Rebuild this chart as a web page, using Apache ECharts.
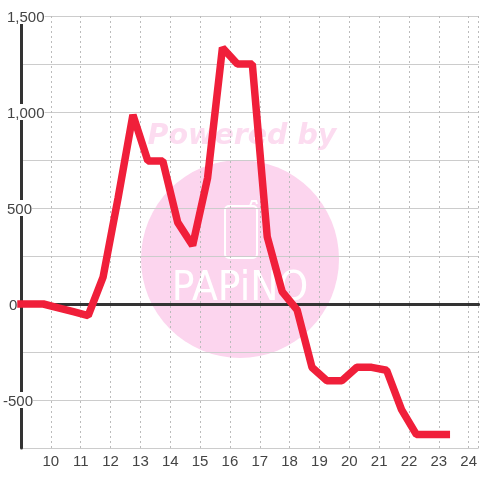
<!DOCTYPE html>
<html style="height: 100%">

<head>
    <meta charset="utf-8">
    <script src="https://cdn.jsdelivr.net/npm/echarts@6/dist/echarts.min.js"></script>
</head>

<body style="height: 100%; margin: 0; background: #fff">
<div id="container" style="width: 480px; height: 480px"></div>

<script type="text/javascript">
    // values
    var hours = [9, 9.75, 10.25, 10.75, 11.25, 11.75, 12.25, 12.75, 13.25, 13.75, 14.25, 14.75, 15.25, 15.75,
        16.25, 16.75, 17.25, 17.75, 18.25, 18.75, 19.25, 19.75, 20.25, 20.75, 21.25, 21.75, 22.25, 22.75, 23.25];
    var values = [0, 0, -20, -40, -60, 140, 550, 985, 745, 745, 425, 305, 655, 1335,
        1250, 1250, 350, 65, -30, -330, -400, -400, -330, -330, -345, -550, -680, -680, -680];
    var yTickValues = [1500, 1000, 500, 0, -500];
    var yTickLabels = ['1,500', '1,000', '500', '0', '-500'];
    var yTickStyles = ['a', 'a', 'a', 'b', 'c'];

    var labelFont = {
        fontFamily: 'Liberation Sans',
        fontSize: 15,
        color: '#444'
    };

    var dom = document.getElementById("container");
    var myChart = echarts.init(dom);

    var option = {
        animation: false,
        backgroundColor: '#fff',
        grid: {
            left: 20,
            right: 0,
            top: 16,
            bottom: 32
        },
        graphic: {
            elements: [
                {
                    type: 'circle', z: -10, silent: true,
                    shape: {cx: 240, cy: 259, r: 99},
                    style: {fill: '#fcd5ee'}
                },
                {
                    type: 'text', z: -10, silent: true, x: 242, y: 137,
                    style: {
                        text: 'Powered by', fill: '#fcdcf0', align: 'center', verticalAlign: 'middle',
                        font: 'italic bold 28.5px "DejaVu Sans"'
                    }
                },
                {
                    type: 'rect', z: -9, silent: true,
                    shape: {x: 225, y: 206, width: 32, height: 52, r: 4},
                    style: {fill: 'none', stroke: '#fff', lineWidth: 2}
                },
                {
                    type: 'polyline', z: -9, silent: true,
                    shape: {points: [[250, 206], [252, 201], [256, 201], [257, 204]]},
                    style: {fill: 'none', stroke: '#fff', lineWidth: 2}
                },
                {
                    type: 'text', z: -9, silent: true, x: 240, y: 289, scaleX: 1.05, scaleY: 1.15,
                    style: {
                        text: 'PAPiNO', fill: '#fff', align: 'center', verticalAlign: 'middle',
                        font: '36px "DejaVu Sans"'
                    }
                }
            ]
        },
        xAxis: [
            {
                type: 'value',
                min: 9,
                max: 24.3333,
                interval: 1,
                position: 'bottom',
                axisLine: {show: false},
                axisTick: {show: false},
                axisLabel: Object.assign({
                    margin: 6,
                    showMinLabel: false,
                    showMaxLabel: false
                }, labelFont),
                splitLine: {
                    show: true,
                    lineStyle: {color: '#bbb', width: 1, type: [2, 3]}
                }
            },
            {
                // heavy line at zero
                type: 'value',
                min: 9,
                max: 24.3333,
                axisLine: {onZero: true, onZeroAxisIndex: 0, lineStyle: {color: '#333', width: 3}},
                axisTick: {show: false},
                axisLabel: {show: false},
                splitLine: {show: false}
            }
        ],
        yAxis: {
            type: 'value',
            min: -750,
            max: 1500,
            interval: 250,
            axisLine: {show: true, onZero: false, lineStyle: {color: '#333', width: 3}},
            axisTick: {show: false},
            axisLabel: Object.assign({
                margin: 18,
                align: 'left',
                showMinLabel: true,
                formatter: function (value) {
                    var i = yTickValues.indexOf(value);
                    return i < 0 ? '' : '{' + yTickStyles[i] + '|' + yTickLabels[i] + '}';
                },
                rich: {
                    a: Object.assign({padding: [4, 0, 0, 4], backgroundColor: '#fff', height: 12, lineHeight: 12}, labelFont),
                    b: Object.assign({padding: [4, 0, 0, 6], height: 12, lineHeight: 12}, labelFont),
                    c: Object.assign({padding: [4, 0, 0, 0], backgroundColor: '#fff', height: 12, lineHeight: 12}, labelFont)
                }
            }, labelFont),
            splitLine: {
                show: true,
                lineStyle: {color: '#ccc', width: 1}
            }
        },
        series: [
            {
                type: 'line',
                data: hours.map(function (h, i) { return [h, values[i]]; }),
                showSymbol: false,
                symbol: 'none',
                clip: false,
                z: 10,
                lineStyle: {color: '#f01f3a', width: 7.5, cap: 'square', join: 'bevel'}
            }
        ]
    };

    myChart.setOption(option, true);
</script>
</body>

</html>
